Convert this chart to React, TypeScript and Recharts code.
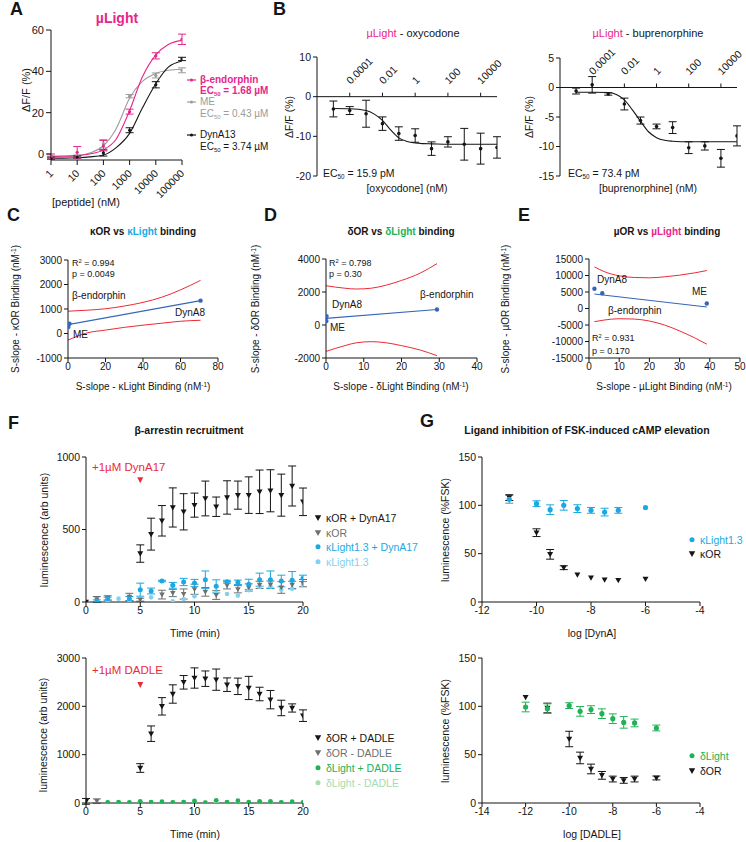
import React from 'react';
import { ComposedChart, Line, Scatter, XAxis, YAxis, ErrorBar, ReferenceLine, ReferenceDot } from 'recharts';

const FONT = '"Liberation Sans", Arial, Helvetica, sans-serif';
const INK = '#151515';
const PINK = '#e8258a';
const GREY = '#9b9b9b';
const DGREY = '#6f6f6f';
const KBLUE = '#1aa9e2';
const KLIGHT = '#86d0ef';
const GREEN = '#20b257';
const LGREEN = '#a6dcb0';
const RED = '#ec2a36';
const FITBLUE = '#3566b8';

// ---- A: muLight dose response (peptide, nM)
const aConc = [1, 10, 100, 1000, 10000, 100000];
const aEndoMean = [-1, 0.8, 4, 20.5, 47.5, 55.5];
const aEndoSem = [1, 2.8, 2.5, 1.2, 1.5, 2.5];
const aMEMean = [-1.5, -1, 5, 28, 38, 40.5];
const aMESem = [0.5, 0.5, 2, 0.8, 1.2, 1.2];
const aDynMean = [-2, -1.5, 0.5, 11.5, 33.5, 46];
const aDynSem = [0.5, 0.5, 1.5, 1.2, 1.5, 0.8];
const aFitConc = [1, 3, 10, 30, 100, 300, 1000, 3000, 10000, 30000, 100000];
const aEndoFit = [-1.2, -1.1, -0.8, 0, 2, 7, 21, 37, 48, 53, 55];
const aMEFit = [-1, -1, -0.8, 0.5, 4, 12, 27, 35, 39, 40.5, 41];
const aDynFit = [-2, -2, -1.8, -1.4, -0.5, 3, 10, 22, 34, 42, 45];
const aTicks = [0, 1, 2, 3, 4, 5];

// ---- B: oxycodone / buprenorphine (log10 nM)
const bLogConc = [-5, -4, -3, -2, -1, 0, 1, 2, 3, 4, 5];
const oxyMean = [-3.1, -3.5, -4.3, -6.8, -9.3, -9.8, -13.1, -11.4, -12, -13.1, -12.8];
const oxySem = [2, 1, 3.4, 1.7, 1.7, 1.7, 1.7, 1.3, 4, 3.9, 2.7];
const bupMean = [-0.6, 0.45, -1.1, -2.8, -5.6, -6.6, -6.8, -10.2, -9.9, -12, -8.2];
const bupSem = [0.5, 1.4, 0.2, 1, 0.6, 0.4, 1, 1, 0.7, 1.5, 1.7];
const bFitLog = [-5, -4, -3, -2.5, -2, -1.5, -1, -0.5, 0, 0.5, 1, 2, 3, 4, 5];
const oxyFit = [-3, -3.05, -3.5, -4.4, -6, -8.4, -10.4, -11.3, -11.7, -11.85, -11.9, -12, -12, -12, -12];
const bupFit = [-0.8, -0.8, -0.85, -1.2, -2.1, -3.8, -5.7, -7.5, -8.5, -8.95, -9.1, -9.2, -9.2, -9.2, -9.2];
const bTickLog = [-4, -2, 0, 2, 4];
const bTickLabels = ['0.0001', '0.01', '1', '100', '10000'];

// ---- C/D/E: S-slope correlations
const cX = [0.2, 0.8, 70.7];
const cY = [270, 400, 1340];
const cFitX = [0, 70.7];
const cFitY = [360, 1340];
const cBandX = [0, 10, 20, 30, 40, 50, 60, 70.7];
const cUpper = [910, 950, 1010, 1120, 1270, 1480, 1780, 2170];
const cLower = [-270, 20, 140, 250, 340, 420, 500, 540];

const dX = [0.15, 0.1, 29.4];
const dY = [540, 240, 940];
const dFitX = [0, 29.4];
const dFitY = [400, 940];
const dBandX = [0, 5, 8, 12, 16, 20, 25, 29.4];
const dUpper = [2380, 2230, 2180, 2230, 2420, 2700, 3150, 3720];
const dLower = [-1600, -1250, -1080, -1010, -1080, -1250, -1520, -1860];

const eX = [1.8, 4.4, 39];
const eY = [6000, 4600, 1500];
const eFitX = [1.8, 39];
const eFitY = [4400, 450];
const eBandX = [1.8, 5, 10, 15, 20, 25, 30, 35, 39];
const eUpper = [12600, 11200, 9900, 9400, 9300, 9600, 10100, 10800, 11500];
const eLower = [-4000, -3500, -3100, -3200, -3800, -5000, -6800, -8900, -10800];

// ---- F: beta-arrestin recruitment (time, min)
const fTimeKorDyn = [0, 5, 6, 7, 8, 9, 10, 11, 12, 13, 14, 15, 16, 17, 18, 19, 20];
const fKorDyn = [0, 334, 468, 560, 652, 622, 668, 714, 657, 721, 737, 737, 760, 767, 737, 800, 691];
const fKorDynSem = [0, 60, 110, 105, 135, 125, 83, 120, 67, 115, 97, 126, 150, 145, 145, 138, 95];
const fTimeKor = [1, 2, 4, 5, 7, 8, 9, 10, 11, 12, 13, 14, 15, 16, 17, 18, 19, 20];
const fKor = [18, 28, 35, 16, 51, 62, 55, 88, 70, 48, 115, 88, 100, 118, 120, 100, 118, 130];
const fKorSem = [20, 15, 25, 10, 30, 25, 35, 35, 30, 30, 25, 25, 25, 25, 25, 40, 25, 25];
const fTimeKlDyn = [1, 2, 4, 5, 6, 7, 8, 9, 10, 11, 12, 13, 14, 15, 16, 17, 18, 19, 20];
const fKlDyn = [7, 23, 23, 85, 76, 145, 115, 138, 131, 154, 108, 140, 136, 122, 154, 154, 145, 150, 163];
const fKlDynSem = [8, 10, 15, 45, 20, 5, 20, 25, 25, 60, 45, 10, 15, 35, 45, 60, 40, 60, 22];
const fTimeKl = [1, 2, 3, 4, 6, 8, 9, 10, 12, 13, 14, 15, 16, 17, 18, 19, 20];
const fKl = [2, 12, 23, 12, 32, 5, 21, 39, 62, 55, 44, 81, 104, 108, 85, 92, 115];

const fTimeDorDadle = [0, 5, 6, 7, 8, 9, 10, 11, 12, 13, 14, 15, 16, 17, 18, 19, 20];
const fDorDadle = [34, 724, 1434, 2000, 2255, 2497, 2586, 2572, 2552, 2448, 2414, 2380, 2255, 2138, 1966, 1966, 1807];
const fDorDadleSem = [60, 90, 160, 180, 190, 140, 210, 160, 220, 140, 170, 240, 140, 190, 160, 85, 120];
const fTimeDor = [1];
const fDor = [41];
const fDorSem = [45];
const fTimeDl = [2, 3, 4, 5, 6, 7, 8, 9, 10, 11, 12, 13, 14, 15, 16, 17, 18, 19, 20];
const fDlDadle = [14, 20, 14, 34, 20, 28, 14, 20, 41, 5, 55, 20, 48, 20, 34, 34, 14, 28, 14];
const fDlNo = [10, 12, 10, 15, 12, 10, 12, 18, 12, 10, 10, 14, 12, 10, 14, 10, 12, 10, 10];

// ---- G: cAMP inhibition (log M)
const gLogDynA = [-11, -10, -9.5, -9, -8.5, -8, -7.5, -7, -6];
const gKl = [106.2, 101.7, 95.5, 100, 96.6, 94.8, 93, 94.8, 97.6];
const gKlSem = [4, 3, 5, 5, 4, 3, 4, 3, 0];
const gKor = [108, 71.7, 49.3, 35.5, 28.3, 25.2, 23.1, 22.4, 23.8];
const gKorSem = [3, 4, 5, 2, 0, 0, 0, 0, 0];
const gLogDadle = [-12, -11, -10, -9.5, -9, -8.5, -8, -7.5, -7, -6];
const gDl = [99.3, 97.6, 100.7, 94.8, 96.6, 92.4, 87.2, 83.4, 82.8, 77.6];
const gDlSem = [5, 5, 3, 5, 4, 5, 5, 6, 4, 3];
const gDor = [109.3, 98.3, 66.2, 46.6, 35.2, 28.6, 24.8, 23.4, 24.8, 25.9];
const gDorSem = [0, 5, 8, 6, 5, 4, 3, 3, 3, 2];

const pts = (xs: number[], ys: number[], es?: number[]) => xs.map((x, i) => ({ x, y: ys[i], e: es ? es[i] : 0 }));
const logPts = (xs: number[], ys: number[], es?: number[]) => xs.map((c, i) => ({ x: Math.log10(c), y: ys[i], e: es ? es[i] : 0 }));

const YW = 60;
const PT = 12;
const PR = 14;
const XH = 44;
const AX = { stroke: INK, strokeWidth: 1 };

function Frame({ x, y, w, h, children }: { x: number; y: number; w: number; h: number; children: React.ReactNode }) {
  return (
    <div style={{ position: 'absolute', left: x - YW, top: y - PT }}>
      <ComposedChart width={w + YW + PR} height={h + PT + XH} margin={{ top: PT, right: PR, bottom: 0, left: 0 }}>
        {children}
      </ComposedChart>
    </div>
  );
}

const dot = (fill: string, r = 2.4) => (p: any) => <circle cx={p.cx} cy={p.cy} r={r} fill={fill} />;
const tri = (fill: string, s = 3.2) => (p: any) => (
  <path d={`M${p.cx - s},${p.cy - s * 0.75}L${p.cx + s},${p.cy - s * 0.75}L${p.cx},${p.cy + s}Z`} fill={fill} />
);

function T({ x, y, size = 10, color = INK, bold, center, rotate, children }: any) {
  const tr = rotate ? 'translate(-50%,-50%) rotate(-90deg)' : center ? 'translate(-50%,-50%)' : 'translateY(-50%)';
  return (
    <div style={{ position: 'absolute', left: x, top: y, fontSize: size, color, fontWeight: bold ? 700 : 400, whiteSpace: 'nowrap', lineHeight: 1, transform: tr, fontFamily: FONT }}>
      {children}
    </div>
  );
}
const Sub = ({ children }: any) => <span style={{ fontSize: '0.6em', position: 'relative', top: '0.3em' }}>{children}</span>;
const Sup = ({ children }: any) => <span style={{ fontSize: '0.65em', position: 'relative', top: '-0.45em' }}>{children}</span>;

function Leg({ x, y, color, kind, size = 10.5, bold, children }: any) {
  return (
    <div style={{ position: 'absolute', left: x, top: y, transform: 'translateY(-50%)', display: 'flex', alignItems: 'center', fontSize: size, color, fontWeight: bold ? 700 : 400, whiteSpace: 'nowrap', lineHeight: 1, fontFamily: FONT }}>
      <svg width={10} height={10} style={{ marginRight: 3 }}>
        {kind === 'dot' && <circle cx={5} cy={5} r={2.5} fill={color} />}
        {kind === 'tri' && <path d="M1.8,2.6L8.2,2.6L5,8.2Z" fill={color} />}
        {kind === 'line' && (
          <g>
            <line x1={0} x2={9} y1={5} y2={5} stroke={color} strokeWidth={1.2} />
            <circle cx={4.5} cy={5} r={1.6} fill={color} />
          </g>
        )}
      </svg>
      {children}
    </div>
  );
}

const RotTick = (p: any) => {
  const lx = p.x + 3;
  const ly = p.y + 7;
  return (
    <text x={lx} y={ly} textAnchor="end" transform={`rotate(-45 ${lx} ${ly})`} fontSize={10.5} fill={INK}>
      {String(Math.round(Math.pow(10, p.payload.value)))}
    </text>
  );
};

const topTick = (axisY: number) => (p: any) => {
  const lx = p.x + 1;
  const ly = axisY - 12;
  const i = bTickLog.indexOf(p.payload.value);
  return (
    <g>
      <line x1={p.x} x2={p.x} y1={axisY} y2={axisY - 4} stroke={INK} />
      <text x={lx} y={ly} fontSize={10.5} fill={INK} transform={`rotate(-45 ${lx} ${ly})`}>
        {bTickLabels[i]}
      </text>
    </g>
  );
};

function yAx(domain: number[], ticks: number[], size = 10) {
  return (
    <YAxis type="number" domain={domain} ticks={ticks} interval={0} width={YW} tickSize={4} tickMargin={2} axisLine={AX} tickLine={AX} tick={{ fontSize: size, fill: INK }} allowDataOverflow />
  );
}
function xAx(domain: number[], ticks: number[], size = 10) {
  return (
    <XAxis dataKey="x" type="number" domain={domain} ticks={ticks} interval={0} height={XH} tickSize={4} tickMargin={1} axisLine={AX} tickLine={AX} tick={{ fontSize: size, fill: INK }} allowDataOverflow />
  );
}

function fitLine(data: any[], color: string, width = 1.1, type: any = 'monotone') {
  return <Line data={data} dataKey="y" type={type} stroke={color} strokeWidth={width} dot={false} isAnimationActive={false} />;
}
function points(data: any[], shape: any, color: string, err = true) {
  return (
    <Scatter data={data} dataKey="y" shape={shape} isAnimationActive={false}>
      {err && <ErrorBar dataKey="e" direction="y" width={4} stroke={color} strokeWidth={1} />}
    </Scatter>
  );
}

function PanelA() {
  return (
    <>
      <Frame x={51} y={30} w={131} h={130}>
        <XAxis dataKey="x" type="number" domain={[0, 5]} ticks={aTicks} interval={0} height={XH} tickSize={5} tickMargin={2} axisLine={AX} tickLine={AX} tick={(p: any) => <RotTick {...p} />} allowDataOverflow />
        <YAxis type="number" domain={[-2.9, 60]} ticks={[0, 20, 40, 60]} interval={0} width={YW} tickSize={5} tickMargin={2} axisLine={AX} tickLine={AX} tick={{ fontSize: 11, fill: INK }} allowDataOverflow />
        {fitLine(logPts(aFitConc, aMEFit), GREY)}
        {fitLine(logPts(aFitConc, aDynFit), INK)}
        {fitLine(logPts(aFitConc, aEndoFit), PINK)}
        {points(logPts(aConc, aMEMean, aMESem), dot(GREY, 1.6), GREY)}
        {points(logPts(aConc, aDynMean, aDynSem), dot(INK, 1.6), INK)}
        {points(logPts(aConc, aEndoMean, aEndoSem), dot(PINK, 1.6), PINK)}
      </Frame>
      <T x={10} y={9} size={18} bold>A</T>
      <T x={117} y={18} size={14} bold color={PINK} center>µLight</T>
      <T x={26} y={90} size={11} rotate>ΔF/F (%)</T>
      <T x={86} y={202} size={11} center>[peptide] (nM)</T>
      <Leg x={187} y={80} color={PINK} kind="line" size={10} bold>β-endorphin</Leg>
      <T x={200} y={91} size={10} bold color={PINK}>EC<Sub>50</Sub> = 1.68 µM</T>
      <Leg x={187} y={102} color={GREY} kind="line" size={10}>ME</Leg>
      <T x={200} y={114} size={10} color={GREY}>EC<Sub>50</Sub> = 0.43 µM</T>
      <Leg x={187} y={135} color={INK} kind="line" size={10}>DynA13</Leg>
      <T x={200} y={147} size={10}>EC<Sub>50</Sub> = 3.74 µM</T>
    </>
  );
}

function PanelB() {
  const ax1 = PT + (119 * 10) / 30;
  const ax2 = PT + (118 * 5) / 20;
  return (
    <>
      <Frame x={317} y={57} w={180} h={119}>
        <XAxis dataKey="x" type="number" domain={[-6, 5]} ticks={bTickLog} interval={0} height={XH} axisLine={false} tickLine={false} tick={topTick(ax1)} allowDataOverflow />
        {yAx([-20, 10], [-20, -10, 0, 10], 10.5)}
        <ReferenceLine y={0} stroke={INK} strokeWidth={1} />
        {fitLine(pts(bFitLog, oxyFit), INK)}
        {points(pts(bLogConc, oxyMean, oxySem), dot(INK, 1.8), INK)}
      </Frame>
      <Frame x={560} y={58} w={177} h={118}>
        <XAxis dataKey="x" type="number" domain={[-6, 5]} ticks={bTickLog} interval={0} height={XH} axisLine={false} tickLine={false} tick={topTick(ax2)} allowDataOverflow />
        {yAx([-15, 5], [-15, -10, -5, 0, 5], 10.5)}
        <ReferenceLine y={0} stroke={INK} strokeWidth={1} />
        {fitLine(pts(bFitLog, bupFit), INK)}
        {points(pts(bLogConc, bupMean, bupSem), dot(INK, 1.8), INK)}
      </Frame>
      <T x={273} y={9} size={18} bold>B</T>
      <T x={413} y={33} size={11} center><span style={{ color: PINK }}>µLight</span> - oxycodone</T>
      <T x={648} y={33} size={11} center><span style={{ color: PINK }}>µLight</span> - buprenorphine</T>
      <T x={289} y={117} size={10.5} rotate>ΔF/F (%)</T>
      <T x={529} y={117} size={10.5} rotate>ΔF/F (%)</T>
      <T x={323} y={173} size={10.5}>EC<Sub>50</Sub> = 15.9 pM</T>
      <T x={568} y={173} size={10.5}>EC<Sub>50</Sub> = 73.4 pM</T>
      <T x={407} y={188} size={10.5} center>[oxycodone] (nM)</T>
      <T x={648} y={188} size={10.5} center>[buprenorphine] (nM)</T>
    </>
  );
}

function Corr({ x, y, w, h, xd, xt, yd, yt, px, py, fx, fy, bx, up, lo }: any) {
  return (
    <Frame x={x} y={y} w={w} h={h}>
      {xAx(xd, xt, 10)}
      {yAx(yd, yt, 10)}
      {fitLine(pts(bx, up), RED, 1)}
      {fitLine(pts(bx, lo), RED, 1)}
      {fitLine(pts(fx, fy), FITBLUE, 1.2, 'linear')}
      {points(pts(px, py), dot(FITBLUE, 2.2), FITBLUE, false)}
    </Frame>
  );
}

function PanelCDE() {
  return (
    <>
      <Corr x={68} y={260} w={150} h={98} xd={[0, 80]} xt={[0, 20, 40, 60, 80]} yd={[-1000, 3000]} yt={[-1000, 0, 1000, 2000, 3000]}
        px={cX} py={cY} fx={cFitX} fy={cFitY} bx={cBandX} up={cUpper} lo={cLower} />
      <Corr x={326} y={259} w={151} h={99} xd={[0, 40]} xt={[0, 10, 20, 30, 40]} yd={[-2000, 4000]} yt={[-2000, 0, 2000, 4000]}
        px={dX} py={dY} fx={dFitX} fy={dFitY} bx={dBandX} up={dUpper} lo={dLower} />
      <Corr x={589} y={259} w={151} h={99} xd={[0, 50]} xt={[0, 10, 20, 30, 40, 50]} yd={[-15000, 15000]} yt={[-15000, -10000, -5000, 0, 5000, 10000, 15000]}
        px={eX} py={eY} fx={eFitX} fy={eFitY} bx={eBandX} up={eUpper} lo={eLower} />

      <T x={7} y={215} size={18} bold>C</T>
      <T x={143} y={232} size={10} bold center>κOR vs <span style={{ color: KBLUE }}>κLight</span> binding</T>
      <T x={16} y={309} size={10} rotate>S-slope - κOR Binding (nM<Sup>-1</Sup>)</T>
      <T x={143} y={387} size={10} center>S-slope - κLight Binding (nM<Sup>-1</Sup>)</T>
      <T x={72} y={263} size={9}>R<Sup>2</Sup> = 0.994</T>
      <T x={72} y={274} size={9}>p = 0.0049</T>
      <T x={72} y={296} size={10}>β-endorphin</T>
      <T x={175} y={313} size={10}>DynA8</T>
      <T x={73} y={335} size={10}>ME</T>

      <T x={264} y={215} size={18} bold>D</T>
      <T x={401} y={232} size={10} bold center>δOR vs <span style={{ color: GREEN }}>δLight</span> binding</T>
      <T x={256} y={309} size={10} rotate>S-slope - δOR Binding (nM<Sup>-1</Sup>)</T>
      <T x={401} y={387} size={10} center>S-slope - δLight Binding (nM<Sup>-1</Sup>)</T>
      <T x={329} y={263} size={9}>R<Sup>2</Sup> = 0.798</T>
      <T x={329} y={274} size={9}>p = 0.30</T>
      <T x={420} y={295} size={10}>β-endorphin</T>
      <T x={332} y={305} size={10}>DynA8</T>
      <T x={330} y={328} size={10}>ME</T>

      <T x={518} y={215} size={18} bold>E</T>
      <T x={667} y={232} size={10} bold center>µOR vs <span style={{ color: PINK }}>µLight</span> binding</T>
      <T x={506} y={309} size={10} rotate>S-slope - µOR Binding (nM<Sup>-1</Sup>)</T>
      <T x={664} y={387} size={10} center>S-slope - µLight Binding (nM<Sup>-1</Sup>)</T>
      <T x={597} y={280} size={10}>DynA8</T>
      <T x={692} y={292} size={10}>ME</T>
      <T x={608} y={311} size={10}>β-endorphin</T>
      <T x={592} y={338} size={9}>R<Sup>2</Sup> = 0.931</T>
      <T x={592} y={351} size={9}>p = 0.170</T>
    </>
  );
}

const arrow = (p: any) => <path d={`M${p.cx - 3},${p.cy - 3}L${p.cx + 3},${p.cy - 3}L${p.cx},${p.cy + 3}Z`} fill={RED} />;

function PanelF() {
  return (
    <>
      <Frame x={86} y={457} w={217} h={145}>
        {xAx([0, 20], [0, 5, 10, 15, 20], 10.5)}
        {yAx([0, 1000], [0, 500, 1000], 10.5)}
        {points(pts(fTimeKl, fKl), dot(KLIGHT, 2.3), KLIGHT, false)}
        {points(pts(fTimeKor, fKor, fKorSem), tri(DGREY, 2.8), DGREY)}
        {points(pts(fTimeKlDyn, fKlDyn, fKlDynSem), dot(KBLUE, 2.5), KBLUE)}
        {points(pts(fTimeKorDyn, fKorDyn, fKorDynSem), tri(INK, 3), INK)}
        <ReferenceDot x={5} y={840} shape={arrow} ifOverflow="visible" />
      </Frame>
      <Frame x={86} y={658} w={217} h={145}>
        {xAx([0, 20], [0, 5, 10, 15, 20], 10.5)}
        {yAx([0, 3000], [0, 1000, 2000, 3000], 10.5)}
        {points(pts(fTimeDl, fDlNo), dot(LGREEN, 2.3), LGREEN, false)}
        {points(pts(fTimeDor, fDor, fDorSem), tri(DGREY, 2.8), DGREY)}
        {points(pts(fTimeDl, fDlDadle), dot(GREEN, 2.4), GREEN, false)}
        {points(pts(fTimeDorDadle, fDorDadle, fDorDadleSem), tri(INK, 3), INK)}
        <ReferenceDot x={5} y={2440} shape={arrow} ifOverflow="visible" />
      </Frame>
      <T x={8} y={423} size={18} bold>F</T>
      <T x={189} y={430} size={10.5} bold center>β-arrestin recruitment</T>
      <T x={92} y={468} size={11.5} color={RED}>+1µM DynA17</T>
      <T x={92} y={671} size={11.5} color={RED}>+1µM DADLE</T>
      <T x={44} y={530} size={10.5} rotate>luminescence (arb units)</T>
      <T x={43} y={735} size={10.5} rotate>luminescence (arb units)</T>
      <T x={195} y={633} size={10.5} center>Time (min)</T>
      <T x={195} y={834} size={10.5} center>Time (min)</T>
      <Leg x={313} y={518} color={INK} kind="tri">κOR + DynA17</Leg>
      <Leg x={313} y={533} color={DGREY} kind="tri">κOR</Leg>
      <Leg x={313} y={547} color={KBLUE} kind="dot">κLight1.3 + DynA17</Leg>
      <Leg x={313} y={562} color={KLIGHT} kind="dot">κLight1.3</Leg>
      <Leg x={313} y={738} color={INK} kind="tri">δOR + DADLE</Leg>
      <Leg x={313} y={753} color={DGREY} kind="tri">δOR - DADLE</Leg>
      <Leg x={313} y={768} color={GREEN} kind="dot">δLight + DADLE</Leg>
      <Leg x={313} y={783} color={LGREEN} kind="dot">δLight - DADLE</Leg>
    </>
  );
}

function PanelG() {
  return (
    <>
      <Frame x={482} y={457} w={218} h={145}>
        {xAx([-12, -4], [-12, -10, -8, -6, -4], 10.5)}
        {yAx([0, 150], [0, 50, 100, 150], 10.5)}
        {points(pts(gLogDynA, gKor, gKorSem), tri(INK, 3), INK)}
        {points(pts(gLogDynA, gKl, gKlSem), dot(KBLUE, 2.6), KBLUE)}
      </Frame>
      <Frame x={482} y={658} w={218} h={145}>
        {xAx([-14, -4], [-14, -12, -10, -8, -6, -4], 10.5)}
        {yAx([0, 150], [0, 50, 100, 150], 10.5)}
        {points(pts(gLogDadle, gDor, gDorSem), tri(INK, 3), INK)}
        {points(pts(gLogDadle, gDl, gDlSem), dot(GREEN, 2.6), GREEN)}
      </Frame>
      <T x={420} y={421} size={18} bold>G</T>
      <T x={587} y={430} size={10.5} bold center>Ligand inhibition of FSK-induced cAMP elevation</T>
      <T x={445} y={530} size={10.5} rotate>luminescence (%FSK)</T>
      <T x={445} y={731} size={10.5} rotate>luminescence (%FSK)</T>
      <T x={592} y={633} size={10.5} center>log [DynA]</T>
      <T x={592} y={834} size={10.5} center>log [DADLE]</T>
      <Leg x={687} y={540} color={KBLUE} kind="dot">κLight1.3</Leg>
      <Leg x={687} y={554} color={INK} kind="tri">κOR</Leg>
      <Leg x={687} y={756} color={GREEN} kind="dot">δLight</Leg>
      <Leg x={687} y={771} color={INK} kind="tri">δOR</Leg>
    </>
  );
}

export default function App() {
  return (
    <div style={{ position: 'absolute', left: 0, top: 0, width: 746, height: 842, overflow: 'hidden', background: '#fff', fontFamily: FONT, color: INK }}>
      <PanelA />
      <PanelB />
      <PanelCDE />
      <PanelF />
      <PanelG />
    </div>
  );
}
